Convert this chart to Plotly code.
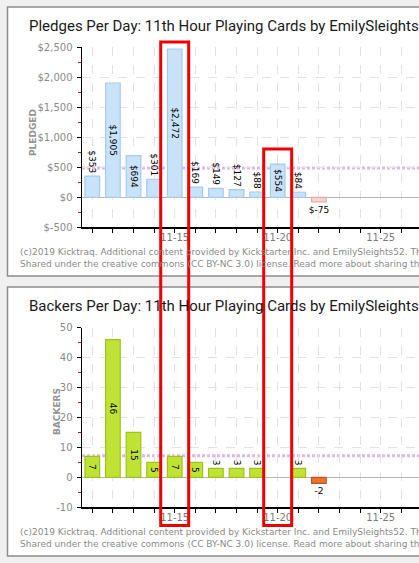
import plotly.graph_objects as go
import pandas as pd

# ---------------- data ----------------
dates = ["2019-11-11", "2019-11-12", "2019-11-13", "2019-11-14", "2019-11-15", "2019-11-16",
         "2019-11-17", "2019-11-18", "2019-11-19", "2019-11-20", "2019-11-21", "2019-11-22"]
pledges = [353, 1905, 694, 301, 2472, 169, 149, 127, 88, 554, 84, -75]
backers = [7, 46, 15, 5, 7, 5, 3, 3, 3, 0, 3, -2]
pledge_avg = 490
backer_avg = 7.2

pledge_tickvals = [-500, 0, 500, 1000, 1500, 2000, 2500]
pledge_ticktext = ["$-500", "$0", "$500", "$1,000", "$1,500", "$2,000", "$2,500"]
backer_tickvals = [-10, 0, 10, 20, 30, 40, 50]
backer_ticktext = ["-10", "0", "10", "20", "30", "40", "50"]

highlight_dates = ["2019-11-15", "2019-11-20"]
highlight_tops = [42, 149]  # pixel tops of the highlight boxes

title1 = "Pledges Per Day: 11th Hour Playing Cards by EmilySleights52"
title2 = "Backers Per Day: 11th Hour Playing Cards by EmilySleights52"
footer1 = "(c)2019 Kicktraq. Additional content provided by Kickstarter Inc. and EmilySleights52. This chart is"
footer2 = "Shared under the creative commons (CC BY-NC 3.0) license. Read more about sharing this chart"

# ---------------- layout constants ----------------
W, H = 419, 563
def py(p):  # pixel y -> paper y
    return 1 - p / H
def px(p):
    return p / W

DAY_MS = 86400000
bar_w = 0.71 * DAY_MS
x_start = pd.Timestamp("2019-11-10 12:00")
x_end = x_start + pd.Timedelta(days=(W - 82) / 20.6)

tickfont = dict(family="DejaVu Sans", size=10, color="#8a8a8a")

fig = go.Figure()

def fmt_money(v):
    return f"${v:,}" if v >= 0 else f"$-{abs(v):,}"

# pledges positive / negative
pos_idx = [i for i, v in enumerate(pledges) if v > 0]
neg_idx = [i for i, v in enumerate(pledges) if v < 0]
fig.add_trace(go.Bar(
    x=[dates[i] for i in pos_idx], y=[pledges[i] for i in pos_idx],
    text=[fmt_money(pledges[i]) for i in pos_idx],
    textposition=["inside" if pledges[i] > 500 else "outside" for i in pos_idx],
    insidetextanchor="middle", textangle=90, constraintext="none",
    textfont=dict(family="DejaVu Sans", size=9, color="#000"),
    width=bar_w, marker=dict(color="#c8e2fa", line=dict(color="#a6cbec", width=1.2)),
    xaxis="x", yaxis="y", cliponaxis=False, showlegend=False, hoverinfo="skip"))
fig.add_trace(go.Bar(
    x=[dates[i] for i in neg_idx], y=[pledges[i] for i in neg_idx],
    text=[fmt_money(pledges[i]) for i in neg_idx],
    textposition="outside", textangle=0, constraintext="none",
    textfont=dict(family="DejaVu Sans", size=9, color="#000"),
    width=bar_w, marker=dict(color="#f7d2d2", line=dict(color="#e6aaaa", width=1.2)),
    xaxis="x", yaxis="y", cliponaxis=False, showlegend=False, hoverinfo="skip"))

# backers positive / negative
bpos = [i for i, v in enumerate(backers) if v > 0]
bneg = [i for i, v in enumerate(backers) if v < 0]
fig.add_trace(go.Bar(
    x=[dates[i] for i in bpos], y=[backers[i] for i in bpos],
    text=[str(backers[i]) for i in bpos],
    textposition=["inside" if backers[i] >= 5 else "outside" for i in bpos],
    insidetextanchor="middle", textangle=90, constraintext="none",
    textfont=dict(family="DejaVu Sans", size=9, color="#000"),
    width=bar_w, marker=dict(color="#c0e234", line=dict(color="#9dc41c", width=1.2)),
    xaxis="x2", yaxis="y2", cliponaxis=False, showlegend=False, hoverinfo="skip"))
fig.add_trace(go.Bar(
    x=[dates[i] for i in bneg], y=[backers[i] for i in bneg],
    text=[str(backers[i]) for i in bneg],
    textposition="outside", textangle=0, constraintext="none",
    textfont=dict(family="DejaVu Sans", size=9, color="#000"),
    width=bar_w, marker=dict(color="#ea7136", line=dict(color="#c9521a", width=1.2)),
    xaxis="x2", yaxis="y2", cliponaxis=False, showlegend=False, hoverinfo="skip"))

xaxis_common = dict(
    type="date", range=[x_start, x_end], domain=[px(82), 1],
    tickvals=["2019-11-15", "2019-11-20", "2019-11-25", "2019-11-30"],
    ticktext=["11-15", "11-20", "11-25", "11-30"],
    ticks="", showline=True, linecolor="#000", linewidth=1.5,
    showgrid=True, gridcolor="#e2e2e2", griddash="dash", gridwidth=1,
    minor=dict(dtick=DAY_MS, tick0="2019-11-11", ticks="outside", ticklen=4,
               tickcolor="#000", showgrid=True, gridcolor="#e2e2e2", griddash="dash"),
    tickfont=dict(family="DejaVu Sans", size=10, color="#7a7a7a"),
    zeroline=False, fixedrange=True, automargin=False)

yaxis_common = dict(
    showline=True, linecolor="#000", linewidth=1.5,
    ticks="outside", ticklen=4, tickcolor="#000",
    showgrid=True, gridcolor="#e2e2e2", griddash="dash",
    zeroline=True, zerolinecolor="#b5b5b5", zerolinewidth=1.2,
    tickfont=tickfont, ticklabelstandoff=2, automargin=False, fixedrange=True)

fig.update_layout(
    width=W, height=H, margin=dict(l=0, r=0, t=0, b=0),
    paper_bgcolor="#f0f0f0", plot_bgcolor="rgba(0,0,0,0)",
    bargap=0, barmode="overlay", hovermode=False,
    xaxis=dict(**xaxis_common, anchor="y"),
    yaxis=dict(**yaxis_common, range=[-500, 2500], domain=[py(227.3), py(47.3)],
               tickvals=pledge_tickvals, ticktext=pledge_ticktext, anchor="x",
               minor=dict(dtick=250, ticks="outside", ticklen=3, tickcolor="#e00000", showgrid=False)),
    xaxis2=dict(**xaxis_common, anchor="y2"),
    yaxis2=dict(**yaxis_common, range=[-10, 50], domain=[py(507.3), py(327.7)],
                tickvals=backer_tickvals, ticktext=backer_ticktext, anchor="x2",
                minor=dict(dtick=5, ticks="outside", ticklen=3, tickcolor="#e00000", showgrid=False)),
)

shapes = []
# panels
for top, bottom in [(7, 276), (287, 556)]:
    shapes.append(dict(type="rect", xref="paper", yref="paper", x0=px(7.5), x1=1.05,
                       y0=py(bottom), y1=py(top), fillcolor="#ffffff",
                       line=dict(color="#8c8c8c", width=1.5), layer="below"))
# average lines
shapes.append(dict(type="line", xref="x domain", yref="y", x0=0, x1=1, y0=pledge_avg, y1=pledge_avg,
                   line=dict(color="#e3b6ea", width=3, dash="3px,2px"), layer="below"))
shapes.append(dict(type="line", xref="x2 domain", yref="y2", x0=0, x1=1, y0=backer_avg, y1=backer_avg,
                   line=dict(color="#e3b6ea", width=3, dash="3px,2px"), layer="below"))
# highlight boxes
half = pd.Timedelta(hours=16.3)
for d, top in zip(highlight_dates, highlight_tops):
    t = pd.Timestamp(d)
    shapes.append(dict(type="rect", xref="x", yref="paper", x0=t - half, x1=t + half,
                       y0=py(525.5), y1=py(top), line=dict(color="#ee0000", width=3),
                       fillcolor="rgba(0,0,0,0)", layer="above"))
fig.update_layout(shapes=shapes)

ann = []
for t, yc in [(title1, 26), (title2, 306)]:
    ann.append(dict(text=t, xref="paper", yref="paper", x=px(27), y=py(yc), xanchor="left",
                    yanchor="middle", showarrow=False,
                    font=dict(family="Roboto", size=15, color="#1a1a1a")))
for yc in [(251.7, 264), (531.7, 544)]:
    for txt, y in zip([footer1, footer2], yc):
        ann.append(dict(text=txt, xref="paper", yref="paper", x=px(18), y=py(y), xanchor="left",
                        yanchor="middle", showarrow=False,
                        font=dict(family="DejaVu Sans", size=9, color="#8a8a8a")))
ann.append(dict(text="<b>PLEDGED</b>", xref="paper", yref="paper", x=px(33), y=py(133), textangle=-90,
                xanchor="center", yanchor="middle",
                showarrow=False, font=dict(family="DejaVu Sans", size=9, color="#959595")))
ann.append(dict(text="<b>BACKERS</b>", xref="paper", yref="paper", x=px(57), y=py(412), textangle=-90,
                xanchor="center", yanchor="middle",
                showarrow=False, font=dict(family="DejaVu Sans", size=9, color="#959595")))
fig.update_layout(annotations=ann)

fig.write_html("out.html", config={"displayModeBar": False, "staticPlot": True},
               post_script="document.body.style.margin='0';document.body.style.overflow='hidden';")
